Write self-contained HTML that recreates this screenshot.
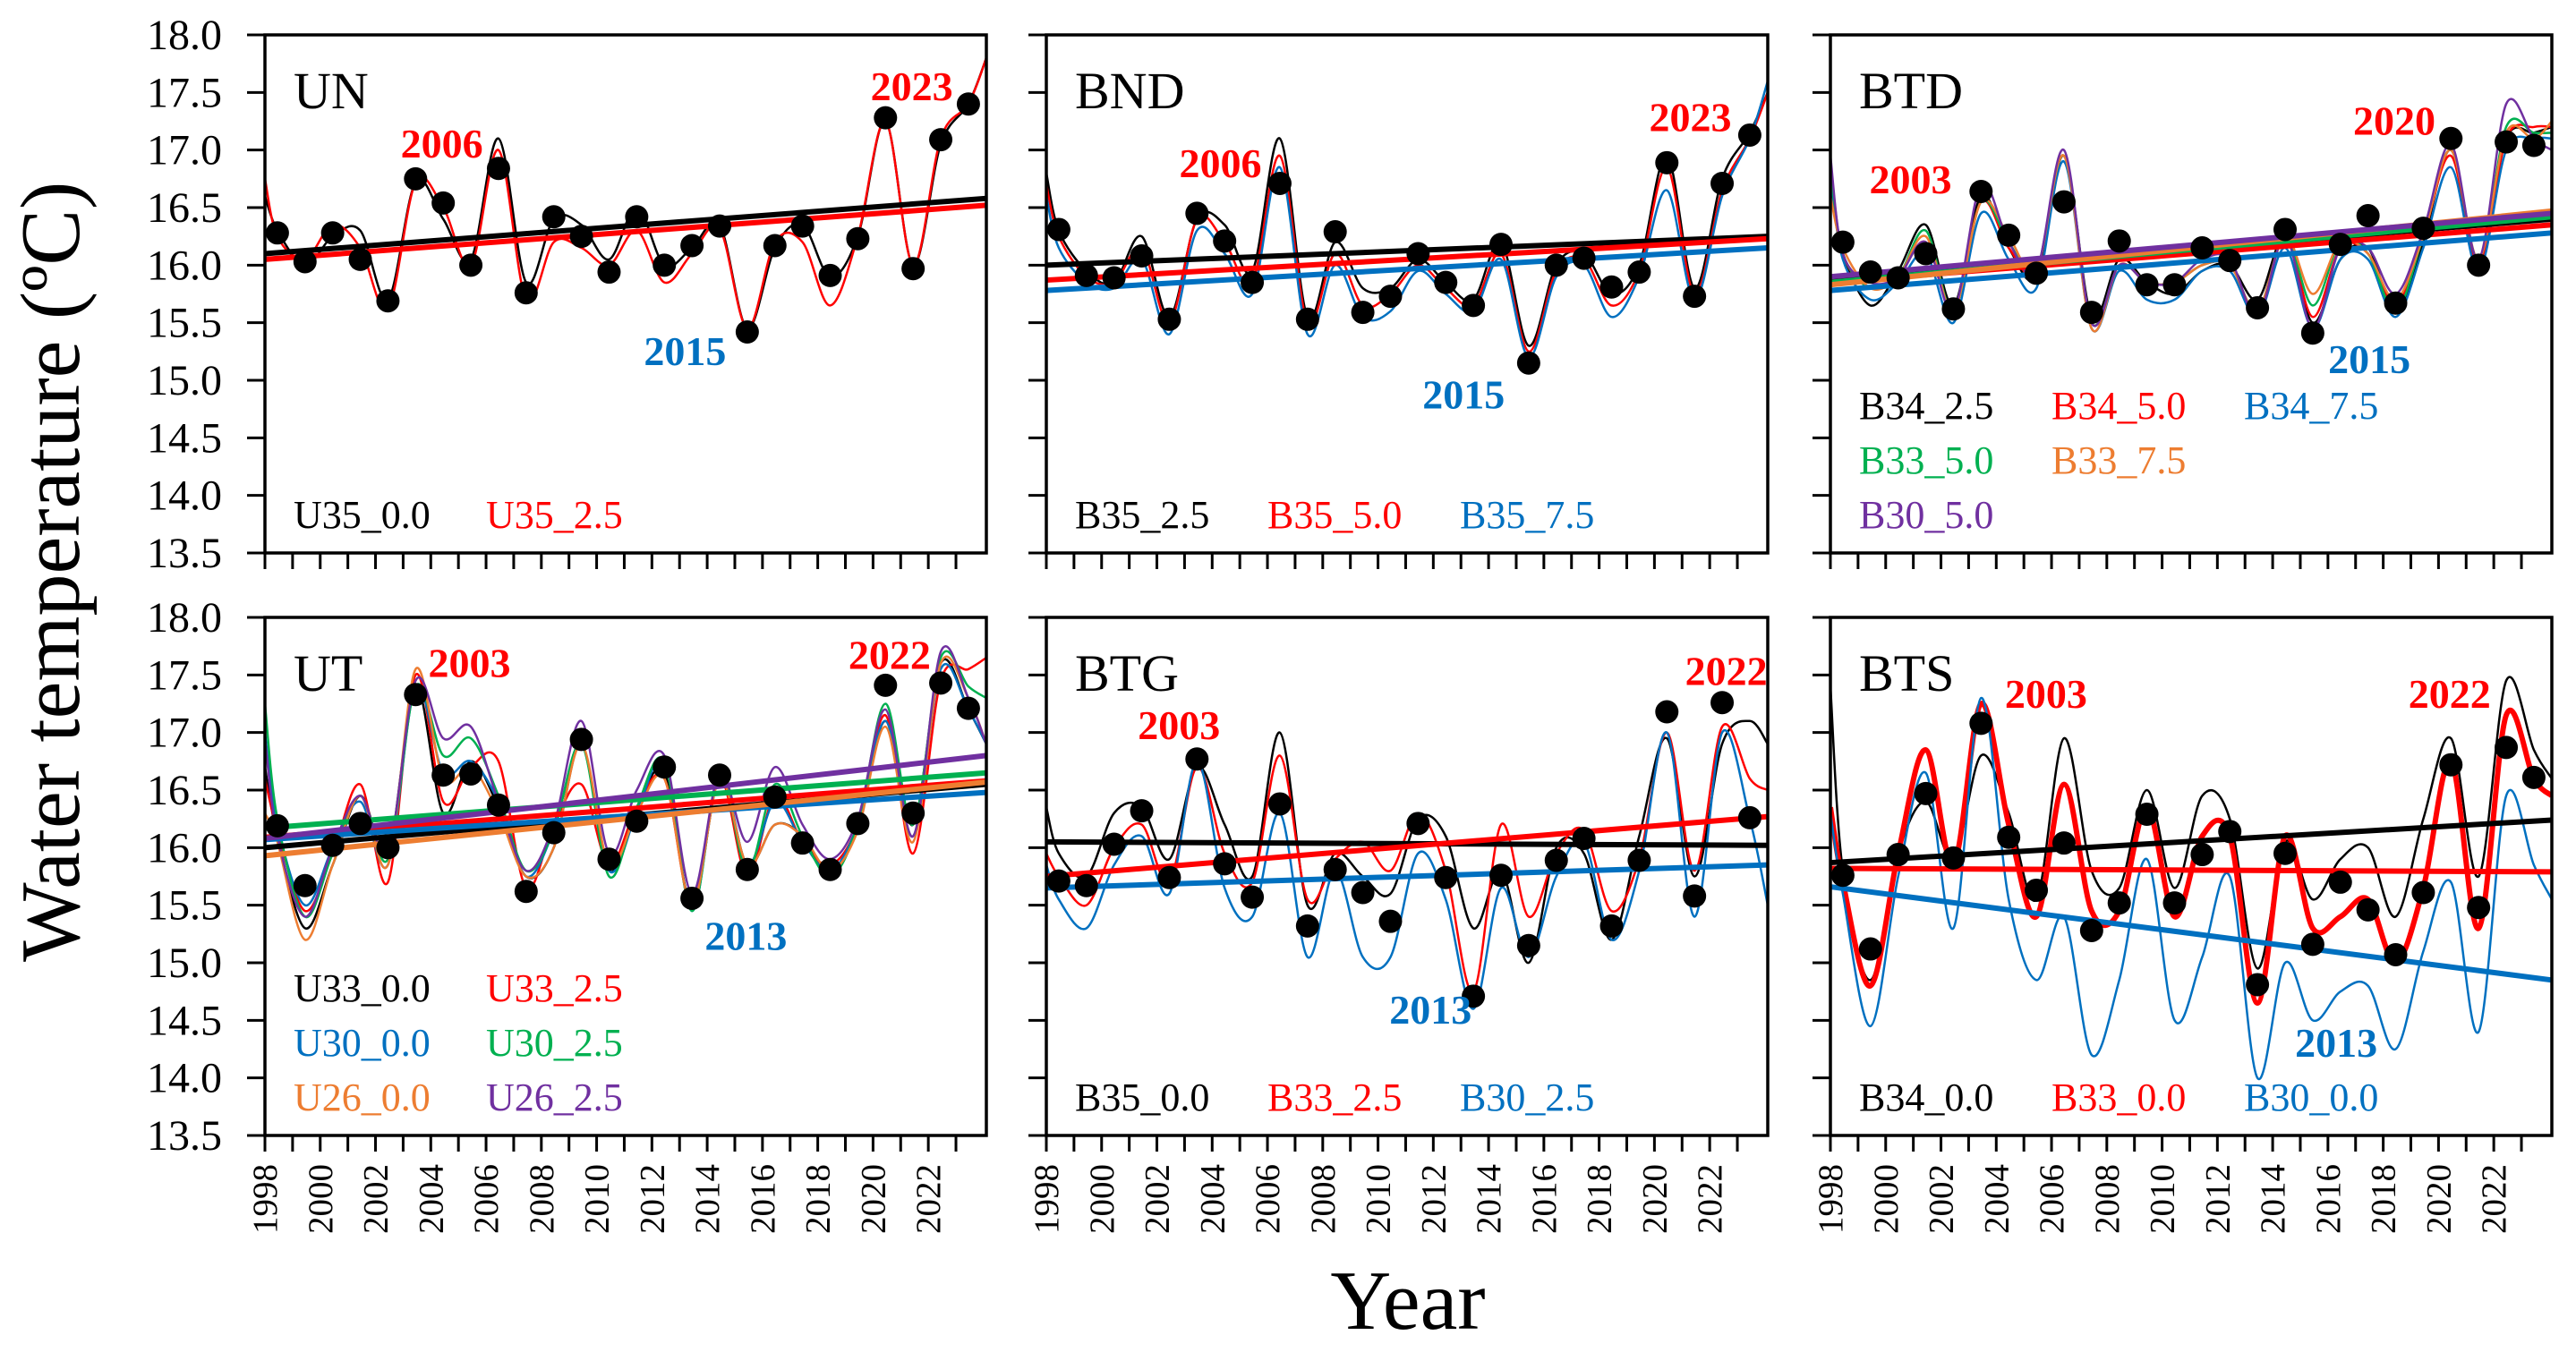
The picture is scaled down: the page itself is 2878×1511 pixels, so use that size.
<!DOCTYPE html>
<html><head><meta charset="utf-8">
<style>
html,body{margin:0;padding:0;background:#fff;}
svg{display:block;font-family:"Liberation Serif",serif;}
</style></head>
<body>
<svg id="chart" width="2878" height="1511" viewBox="0 0 2878 1511" xmlns="http://www.w3.org/2000/svg">
<rect x="0" y="0" width="2878" height="1511" fill="#fff"/>
<text transform="translate(88,1075) rotate(-90)" font-size="94" fill="#000">Water temperature (ºC)</text>
<text x="1573" y="1485" font-size="94" text-anchor="middle" fill="#000">Year</text>
</svg>
<script>
// ---------- data ----------
const years = [1998,1999,2000,2001,2002,2003,2004,2005,2006,2007,2008,2009,2010,2011,2012,2013,2014,2015,2016,2017,2018,2019,2020,2021,2022,2023];
const yTicks = [18.0,17.5,17.0,16.5,16.0,15.5,15.0,14.5,14.0,13.5];
const xTickLabels = [1998,2000,2002,2004,2006,2008,2010,2012,2014,2016,2018,2020,2022];

// UN
const unDots = [16.28,16.03,16.28,16.05,15.69,16.75,16.54,16.00,16.84,15.76,16.42,16.25,15.94,16.42,16.00,16.17,16.34,15.42,16.17,16.34,15.91,16.23,17.28,15.97,17.09,17.40];
const unU35_00 = [16.6,16.30,16.00,16.25,16.30,15.70,16.72,16.40,16.05,17.10,15.85,16.40,16.35,16.05,16.50,16.00,16.15,16.35,15.45,16.15,16.35,15.90,16.25,17.25,16.00,17.05,17.40,17.8];
const unU35_25 = [16.75,16.25,16.05,16.35,16.15,15.62,16.72,16.50,16.00,17.00,15.70,16.20,16.15,16.00,16.30,15.85,16.10,16.32,15.45,16.20,16.20,15.65,16.25,17.25,16.00,17.10,17.40,17.8];
const unTrend00 = [16.10,16.58];
const unTrend25 = [16.05,16.52];

// BND
const bndDots = [16.31,15.91,15.89,16.08,15.53,16.45,16.21,15.85,16.71,15.53,16.29,15.59,15.73,16.10,15.85,15.65,16.18,15.15,16.00,16.06,15.81,15.94,16.89,15.73,16.71,17.13];
const bndB35_25 = [16.8,16.30,15.95,15.85,16.25,15.55,16.40,16.35,15.95,17.10,15.55,16.20,15.80,15.80,16.05,15.85,15.70,16.20,15.30,16.00,16.10,15.75,16.00,16.95,15.80,16.75,17.15,17.5];
const bndB35_50 = [16.7,16.25,15.90,15.85,16.15,15.50,16.40,16.20,15.85,16.95,15.50,16.10,15.65,15.75,16.00,15.80,15.65,16.10,15.25,15.95,16.05,15.65,15.95,16.85,15.75,16.65,17.10,17.5];
const bndB35_75 = [16.6,16.15,15.85,15.80,16.05,15.40,16.30,16.10,15.75,16.85,15.40,16.00,15.55,15.60,15.95,15.75,15.60,16.05,15.20,15.90,16.00,15.55,15.90,16.65,15.70,16.60,17.10,17.6];
const bndTrend25 = [16.00,16.25];
const bndTrend50 = [15.87,16.23];
const bndTrend75 = [15.78,16.15];

// BTD
const btdDots = [16.20,15.94,15.89,16.10,15.62,16.64,16.26,15.93,16.55,15.59,16.21,15.83,15.83,16.15,16.04,15.63,16.31,15.41,16.18,16.43,15.67,16.32,17.10,16.00,17.07,17.04];
const btdB34_25 = [16.7,16.10,15.65,15.95,16.35,15.65,16.60,16.15,15.90,16.95,15.55,16.05,15.85,15.75,15.95,16.00,15.70,16.25,15.50,16.05,16.15,15.60,16.20,17.00,16.00,17.10,17.15,17.2];
const btdB34_50 = [16.9,16.10,15.80,15.90,16.20,15.60,16.55,16.15,15.95,16.95,15.50,16.00,15.85,15.85,16.00,16.00,15.60,16.25,15.55,16.15,16.10,15.65,16.25,16.95,16.00,17.10,17.20,17.2];
const btdB34_75 = [16.8,16.05,15.70,15.85,16.10,15.50,16.45,16.05,15.80,16.90,15.45,15.95,15.70,15.70,15.95,15.95,15.55,16.15,15.45,16.05,16.05,15.55,16.15,16.85,15.95,17.00,17.10,17.1];
const btdB33_50 = [16.85,16.10,15.80,15.90,16.30,15.60,16.55,16.20,15.95,16.95,15.50,16.00,15.85,15.85,16.00,16.00,15.60,16.25,15.65,16.20,16.10,15.60,16.25,17.00,16.05,17.20,17.15,17.15];
const btdB33_75 = [16.6,16.15,15.80,15.90,16.25,15.60,16.55,16.25,15.95,16.95,15.45,16.00,15.85,15.85,16.00,16.00,15.60,16.25,15.75,16.20,16.10,15.70,16.25,17.00,16.05,17.15,17.10,17.25];
const btdB30_50 = [16.95,16.10,15.85,15.90,16.20,15.60,16.70,16.20,15.95,17.00,15.50,16.00,15.85,15.85,16.05,16.05,15.55,16.25,15.45,16.15,16.15,15.75,16.30,17.05,16.05,17.40,17.10,17.0];
const btdTrends = [[15.88,16.40],[15.85,16.35],[15.78,16.28],[15.85,16.42],[15.83,16.47],[15.90,16.45]];

// UT
const utDots = [16.19,15.67,16.02,16.21,16.00,17.33,16.63,16.64,16.37,15.62,16.13,16.94,15.90,16.23,16.70,15.56,16.63,15.81,16.44,16.04,15.81,16.21,17.41,16.30,17.43,17.21];
const utU33_00 = [16.7,16.10,15.30,15.85,16.45,15.95,17.40,16.30,16.75,16.35,15.75,16.00,16.90,15.80,16.35,16.65,15.50,16.60,15.85,16.20,16.10,15.75,16.20,17.10,16.20,17.60,17.20,16.9];
const utU33_25 = [16.6,16.15,15.45,15.95,16.55,15.70,17.50,16.40,16.70,16.75,15.65,16.20,16.55,15.85,16.35,16.60,15.50,16.60,15.75,16.45,16.05,15.85,16.20,17.15,15.95,17.45,17.55,17.65];
const utU30_00 = [17.0,16.20,15.50,16.00,16.40,15.85,17.40,16.65,16.75,16.40,15.75,16.15,16.90,15.80,16.30,16.75,15.45,16.65,15.85,16.40,16.05,15.80,16.20,17.10,16.10,17.55,17.20,16.9];
const utU30_25 = [17.25,16.25,15.40,15.95,16.45,15.90,17.40,16.80,16.95,16.45,15.80,16.15,16.90,15.75,16.35,16.75,15.45,16.65,15.80,16.55,16.10,15.75,16.20,17.25,16.20,17.65,17.40,17.3];
const utU26_00 = [16.3,16.05,15.20,15.85,16.45,15.85,17.55,16.60,16.70,16.30,15.75,16.00,16.90,15.85,16.30,16.60,15.50,16.60,15.85,16.20,16.10,15.80,16.15,17.05,16.05,17.60,17.30,16.9];
const utU26_25 = [16.95,16.10,15.40,16.00,16.45,15.95,17.45,16.95,17.05,16.40,15.80,16.20,17.10,15.95,16.50,16.80,15.60,16.65,16.05,16.70,16.20,15.90,16.25,17.20,16.10,17.70,17.30,16.9];
const utTrends = [[16.00,16.55],[16.09,16.58],[16.07,16.48],[16.17,16.65],[15.93,16.57],[16.08,16.80]];

// BTG
const btgDots = [15.71,15.67,16.03,16.32,15.74,16.77,15.86,15.57,16.38,15.32,15.81,15.61,15.36,16.21,15.74,14.71,15.76,15.15,15.89,16.08,15.32,15.89,17.18,15.58,17.26,16.26];
const btgB35_00 = [16.35,15.95,15.75,16.30,16.35,15.90,16.70,16.20,15.75,17.00,15.50,15.95,15.75,15.60,16.25,16.10,15.30,15.80,15.00,16.00,15.95,15.20,16.10,16.95,15.75,16.90,17.10,16.9];
const btgB33_25 = [15.95,15.75,15.50,16.00,16.20,15.70,16.70,15.95,15.70,16.80,15.55,15.90,16.05,15.80,16.30,15.80,14.75,16.20,15.40,15.95,16.15,15.45,15.90,17.00,15.80,17.05,16.60,16.5];
const btgB30_25 = [15.85,15.55,15.30,15.85,16.10,15.60,16.75,15.65,15.40,16.30,15.05,15.80,15.05,15.05,15.95,15.55,14.60,15.65,15.05,15.75,16.05,15.20,15.80,17.00,15.40,17.00,16.25,15.5];
const btgTrends = [[16.05,16.02],[15.75,16.27],[15.65,15.85]];

// BTS
const btsDots = [15.76,15.12,15.94,16.47,15.91,17.08,16.09,15.63,16.04,15.28,15.52,16.29,15.52,15.94,16.14,14.81,15.95,15.16,15.70,15.46,15.07,15.61,16.72,15.48,16.87,16.61];
const btsB34_00 = [17.4,15.80,14.85,15.95,16.40,15.90,16.80,16.30,15.55,16.95,15.80,15.65,16.50,15.65,16.45,16.25,14.95,16.05,15.55,15.90,16.00,15.40,16.25,16.95,15.75,17.45,16.85,16.6];
const btsB33_00 = [16.35,15.70,14.80,15.95,16.85,15.85,17.25,16.20,15.40,16.55,15.45,15.45,16.35,15.40,16.10,16.10,14.65,16.10,15.30,15.40,15.55,15.00,15.65,16.75,15.30,17.15,16.60,16.45];
const btsB30_00 = [16.3,15.60,14.45,15.75,16.65,15.30,17.30,15.55,14.85,15.40,14.20,14.85,15.90,14.50,15.05,15.75,14.00,15.00,14.50,14.75,14.80,14.25,15.10,15.70,14.40,16.45,15.85,15.55];
const btsTrends = [[15.87,16.24],[15.82,15.79],[15.66,14.85]];

// ---------- layout ----------
const C = {black:'#000',red:'#ff0000',blue:'#0070c0',green:'#00b050',orange:'#ed7d31',purple:'#7030a0'};
const colX = [296,1169,2045], rowY = [39,690], PW = 806, PH = 579;
const X0 = 1998, X1 = 2024.1, DOT_OFF = 0.45;
const svg = document.getElementById('chart');
const NS = 'http://www.w3.org/2000/svg';
function mk(tag, attrs, parent){const e=document.createElementNS(NS,tag);for(const k in attrs)e.setAttribute(k,attrs[k]);(parent||svg).appendChild(e);return e;}

const panels = [
 {name:'un',title:'UN',col:0,row:0,dots:unDots,series:[[unU35_00,C.black,2.5],[unU35_25,C.red,2.5]],trends:[[unTrend00,C.black],[unTrend25,C.red]],
  ann:[['2006',C.red,2004.4,17.05],['2023',C.red,2021.4,17.55],['2015',C.blue,2013.2,15.25]],
  leg:[['U35_0.0',C.black,0,0],['U35_2.5',C.red,1,0]]},
 {name:'bnd',title:'BND',col:1,row:0,dots:bndDots,series:[[bndB35_25,C.black,2.5],[bndB35_50,C.red,2.5],[bndB35_75,C.blue,2.5]],trends:[[bndTrend25,C.black],[bndTrend50,C.red],[bndTrend75,C.blue]],
  ann:[['2006',C.red,2004.3,16.88],['2023',C.red,2021.3,17.28],['2015',C.blue,2013.1,14.87]],
  leg:[['B35_2.5',C.black,0,0],['B35_5.0',C.red,1,0],['B35_7.5',C.blue,2,0]]},
 {name:'btd',title:'BTD',col:2,row:0,dots:btdDots,series:[[btdB34_25,C.black,2.5],[btdB34_50,C.red,2.5],[btdB34_75,C.blue,2.5],[btdB33_50,C.green,2.5],[btdB33_75,C.orange,2.5],[btdB30_50,C.purple,2.5]],
  trends:[[btdTrends[0],C.black],[btdTrends[1],C.red],[btdTrends[2],C.blue],[btdTrends[3],C.green],[btdTrends[4],C.orange],[btdTrends[5],C.purple]],
  ann:[['2003',C.red,2000.9,16.74],['2020',C.red,2018.4,17.25],['2015',C.blue,2017.5,15.18]],
  leg:[['B34_2.5',C.black,0,-2],['B34_5.0',C.red,1,-2],['B34_7.5',C.blue,2,-2],['B33_5.0',C.green,0,-1],['B33_7.5',C.orange,1,-1],['B30_5.0',C.purple,0,0]]},
 {name:'ut',title:'UT',col:0,row:1,dots:utDots,series:[[utU33_00,C.black,2.5],[utU33_25,C.red,2.5],[utU30_00,C.blue,2.5],[utU30_25,C.green,2.5],[utU26_00,C.orange,2.5],[utU26_25,C.purple,2.5]],
  trends:[[utTrends[0],C.black],[utTrends[1],C.red],[utTrends[2],C.blue],[utTrends[3],C.green],[utTrends[4],C.orange],[utTrends[5],C.purple]],
  ann:[['2003',C.red,2005.4,17.6],['2022',C.red,2020.6,17.67],['2013',C.blue,2015.4,15.23]],
  leg:[['U33_0.0',C.black,0,-2],['U33_2.5',C.red,1,-2],['U30_0.0',C.blue,0,-1],['U30_2.5',C.green,1,-1],['U26_0.0',C.orange,0,0],['U26_2.5',C.purple,1,0]]},
 {name:'btg',title:'BTG',col:1,row:1,dots:btgDots,series:[[btgB35_00,C.black,2.5],[btgB33_25,C.red,2.5],[btgB30_25,C.blue,2.5]],trends:[[btgTrends[0],C.black],[btgTrends[1],C.red],[btgTrends[2],C.blue]],
  ann:[['2003',C.red,2002.8,17.06],['2022',C.red,2022.6,17.53],['2013',C.blue,2011.9,14.59]],
  leg:[['B35_0.0',C.black,0,0],['B33_2.5',C.red,1,0],['B30_2.5',C.blue,2,0]]},
 {name:'bts',title:'BTS',col:2,row:1,dots:btsDots,series:[[btsB34_00,C.black,2.5],[btsB33_00,C.red,6],[btsB30_00,C.blue,2.5]],trends:[[btsTrends[0],C.black],[btsTrends[1],C.red],[btsTrends[2],C.blue]],
  ann:[['2003',C.red,2005.8,17.33],['2022',C.red,2020.4,17.33],['2013',C.blue,2016.3,14.30]],
  leg:[['B34_0.0',C.black,0,0],['B33_0.0',C.red,1,0],['B30_0.0',C.blue,2,0]]}
];

function catmull(pts){
  let d='M'+pts[0][0].toFixed(1)+','+pts[0][1].toFixed(1);
  for(let i=0;i<pts.length-1;i++){
    const p0=pts[Math.max(0,i-1)],p1=pts[i],p2=pts[i+1],p3=pts[Math.min(pts.length-1,i+2)];
    const c1x=p1[0]+(p2[0]-p0[0])/6,c1y=p1[1]+(p2[1]-p0[1])/6;
    const c2x=p2[0]-(p3[0]-p1[0])/6,c2y=p2[1]-(p3[1]-p1[1])/6;
    d+=' C'+c1x.toFixed(1)+','+c1y.toFixed(1)+' '+c2x.toFixed(1)+','+c2y.toFixed(1)+' '+p2[0].toFixed(1)+','+p2[1].toFixed(1);
  }
  return d;
}

const defs = mk('defs',{});
panels.forEach(p=>{
  const L=colX[p.col], T=rowY[p.row];
  const xs=v=>L+(v-X0)/(X1-X0)*PW;
  const ys=v=>T+(18-v)/4.5*PH;
  const g=mk('g',{});
  
  
  const cp=mk('clipPath',{id:'clip-'+p.name},defs);
  mk('rect',{x:L,y:T,width:PW,height:PH},cp);
  const seriesX=[X0].concat(years.map(y=>y+DOT_OFF)).concat([X1]);
  p.series.forEach((s,i)=>{
    const pts=s[0].map((v,j)=>[xs(seriesX[j]),ys(v)]);
    const path=mk('path',{d:catmull(pts),fill:'none',stroke:s[1],'stroke-width':s[2],'clip-path':'url(#clip-'+p.name+')'},g);
    
    
  });
  p.trends.forEach((t,i)=>{
    const ln=mk('line',{x1:xs(X0),y1:ys(t[0][0]),x2:xs(X1),y2:ys(t[0][1]),stroke:t[1],'stroke-width':6},g);
    
    
  });
  p.dots.forEach((v,j)=>{
    const c=mk('circle',{cx:xs(years[j]+DOT_OFF),cy:ys(v),r:13,fill:'#000'},g);
    
    
  });
  const fr=mk('rect',{x:L,y:T,width:PW,height:PH,fill:'none',stroke:'#000','stroke-width':3.5},g);
  
  
  yTicks.forEach(v=>{
    const tk=mk('line',{x1:L-20,x2:L,y1:ys(v),y2:ys(v),stroke:'#000','stroke-width':3},g);
    
    
    if(p.col===0){
      const tl=mk('text',{x:L-48,y:ys(v)+16,'font-size':48,'text-anchor':'end',fill:'#000'},g);
      tl.textContent=v.toFixed(1);
      
      
    }
  });
  years.forEach(y=>{
    const tk=mk('line',{x1:xs(y),x2:xs(y),y1:T+PH,y2:T+PH+18,stroke:'#000','stroke-width':3},g);
    
    
  });
  if(p.row===1){
    xTickLabels.forEach(y=>{
      const tx=xs(y)+13, ty=T+PH+32;
      const tl=mk('text',{x:0,y:0,'font-size':39,'text-anchor':'end',fill:'#000',transform:'translate('+tx+','+ty+') rotate(-90)'},g);
      tl.textContent=String(y);
      
      
    });
  }
  const tt=mk('text',{x:L+32,y:T+82,'font-size':58,fill:'#000'},g);
  tt.textContent=p.title;
  
  
  p.ann.forEach(a=>{
    const at=mk('text',{x:xs(a[2]),y:ys(a[3])+15,'font-size':46,'font-weight':'bold','text-anchor':'middle',fill:a[1]},g);
    at.textContent=a[0];
    
    
  });
  p.leg.forEach(l=>{
    const lx=L+32+l[2]*215, ly=T+PH-28+l[3]*61;
    const lt=mk('text',{x:lx,y:ly,'font-size':44,fill:l[1]},g);
    lt.textContent=l[0];
    
    
  });
});
</script>
</body></html>
